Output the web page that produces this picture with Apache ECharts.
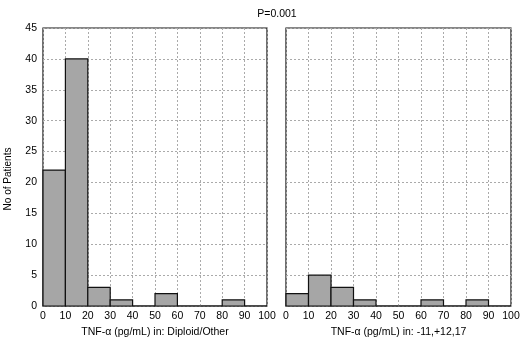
<!DOCTYPE html>
<html>
<head>
<meta charset="utf-8">
<script src="https://cdn.jsdelivr.net/npm/echarts@6/dist/echarts.min.js"></script>
<style>
  html, body { margin: 0; padding: 0; background: #fff; }
  #chart { width: 520px; height: 340px; }
</style>
</head>
<body>
<div id="chart"></div>
<script>
// bin edges (pg/mL) and patient counts per bin
const binStarts = [0, 10, 20, 30, 40, 50, 60, 70, 80, 90];
const binWidth = 10;
const diploidCounts = [22, 40, 3, 1, 0, 2, 0, 0, 1, 0];
const trisomyCounts = [2, 5, 3, 1, 0, 0, 1, 0, 1, 0];
const yTicks = [0, 5, 10, 15, 20, 25, 30, 35, 40, 45];

const font = "'Liberation Sans', Arial, sans-serif";
const fs = 10.5;

function toBins(counts) {
  return binStarts.map((s, i) => [s, s + binWidth, counts[i]]);
}

function renderBin(params, api) {
  const p0 = api.coord([api.value(0), 0]);
  const p1 = api.coord([api.value(1), api.value(2)]);
  return {
    type: "rect",
    shape: { x: p0[0], y: p1[1], width: p1[0] - p0[0], height: p0[1] - p1[1] },
    style: { fill: "#a6a6a6", stroke: "#111", lineWidth: 1.2 }
  };
}

const xAxisBase = {
  type: "value",
  min: 0,
  max: 100,
  interval: 10,
  axisLine: { show: false },
  axisTick: { show: false },
  axisLabel: { color: "#000", fontFamily: font, fontSize: fs, margin: 5 },
  splitLine: { lineStyle: { color: "#aaa", type: [2, 2], width: 1 } },
  nameLocation: "middle",
  nameGap: 20,
  nameTextStyle: { color: "#000", fontFamily: font, fontSize: fs }
};

const yAxisBase = {
  type: "value",
  min: yTicks[0],
  max: yTicks[yTicks.length - 1],
  interval: 5,
  axisLine: { show: false },
  axisTick: { show: false },
  splitLine: { lineStyle: { color: "#aaa", type: [2, 2], width: 1 } }
};

const chart = echarts.init(document.getElementById("chart"));
chart.setOption({
  animation: false,
  backgroundColor: "#fff",
  title: {
    text: "P=0.001",
    left: 272,
    top: 4,
    textAlign: "center",
    textStyle: { color: "#000", fontFamily: font, fontSize: fs, fontWeight: "normal" }
  },
  graphic: [{
    type: "text",
    x: 8,
    y: 179,
    rotation: Math.PI / 2,
    style: {
      text: "No of Patients",
      fill: "#000",
      font: "10px " + font,
      textAlign: "center",
      textVerticalAlign: "middle"
    }
  }],
  grid: [
    { left: 43, top: 28, width: 224, height: 278, show: true, borderColor: "#111", borderWidth: 1.2, outerBoundsMode: "none" },
    { left: 286, top: 28, width: 225, height: 278, show: true, borderColor: "#111", borderWidth: 1.2, outerBoundsMode: "none" }
  ],
  xAxis: [
    Object.assign({}, xAxisBase, { gridIndex: 0, name: "TNF-α (pg/mL) in: Diploid/Other" }),
    Object.assign({}, xAxisBase, { gridIndex: 1, name: "TNF-α (pg/mL) in: -11,+12,17" })
  ],
  yAxis: [
    Object.assign({}, yAxisBase, {
      gridIndex: 0,
      axisLabel: { color: "#000", fontFamily: font, fontSize: fs, margin: 6 }
    }),
    Object.assign({}, yAxisBase, { gridIndex: 1, axisLabel: { show: false } })
  ],
  series: [
    { type: "custom", xAxisIndex: 0, yAxisIndex: 0, renderItem: renderBin, data: toBins(diploidCounts), clip: false },
    { type: "custom", xAxisIndex: 1, yAxisIndex: 1, renderItem: renderBin, data: toBins(trisomyCounts), clip: false }
  ]
});
</script>
</body>
</html>
